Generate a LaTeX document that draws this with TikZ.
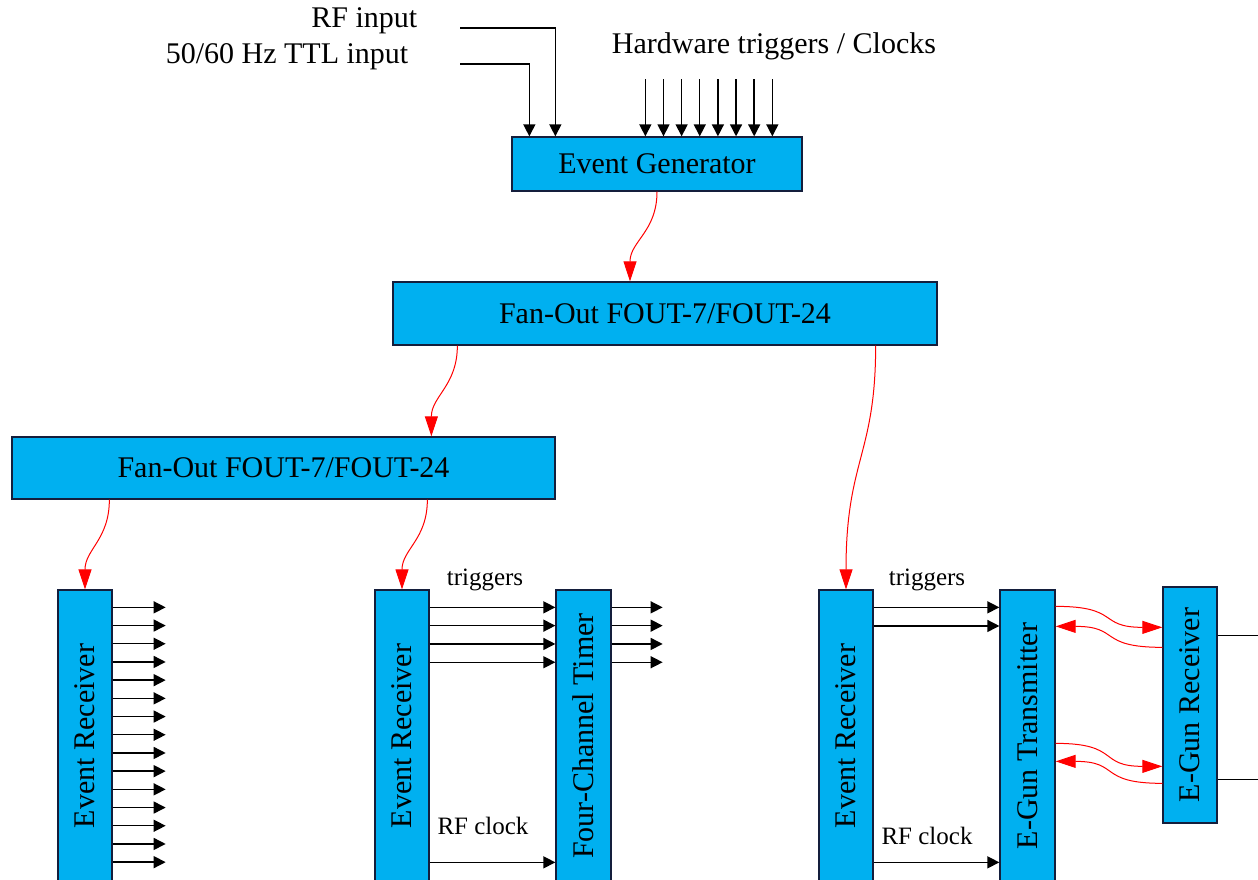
\documentclass[tikz,border=0pt]{standalone}
\usepackage{fontspec}
\setmainfont{Liberation Serif}
\usetikzlibrary{arrows.meta, calc, positioning}
\definecolor{boxblue}{RGB}{0,176,240}
\definecolor{boxline}{RGB}{20,30,60}

\begin{document}
\begin{tikzpicture}[x=1pt, y=-1pt, line width=1.4pt,
    blk/.style={draw=boxline, fill=boxblue, line width=1.3pt, inner sep=0pt, font=\fontsize{30}{34}\selectfont},
    sig/.style={-{Triangle[length=12pt, width=12pt]}, line width=1.4pt},
    fib/.style={-{Triangle[length=20pt, width=13pt]}, red, line width=1pt},
    lbl/.style={font=\fontsize{30}{34}\selectfont, inner sep=0pt},
    small/.style={font=\fontsize{25}{30}\selectfont, inner sep=0pt}]
        \useasboundingbox (0,0) rectangle (1258,880);
        \clip (0,0) rectangle (1258,880);

        % Event generator and its inputs
        \node[blk, minimum width=290pt, minimum height=54pt] (eg) at (657,164) {Event Generator};
        \node[lbl, anchor=base east] (rfin) at (418,28) {RF input};
        \node[lbl, anchor=base east] (ttlin) at (409,64) {50/60 Hz TTL input};
        \coordinate (rfstart) at (460,28);
        \coordinate (ttlstart) at (460,64);
        \draw[sig] (rfstart) -| ($(eg.north west)+(44,0)$);
        \draw[sig] (ttlstart) -| ($(eg.north west)+(18,0)$);
        \node[lbl] (hw) at (774,46) {Hardware triggers / Clocks};
        \foreach \i in {0,...,7}
            \draw[sig] ($(eg.north west)+(134+18.14*\i,-57)$) -- +(0,57);

        % Fan-outs
        \node[blk, minimum width=544pt, minimum height=63pt] (fo1) at (665,313.5) {Fan-Out FOUT-7/FOUT-24};
        \node[blk, minimum width=543pt, minimum height=62pt] (fo2) at (283.5,468) {Fan-Out FOUT-7/FOUT-24};

        % Receivers and timers
        \node[blk, minimum width=54pt, minimum height=292pt] (er1) at (85,736) {\rotatebox{90}{Event Receiver}};
        \node[blk, minimum width=54pt, minimum height=292pt] (er2) at (402,736) {\rotatebox{90}{Event Receiver}};
        \node[blk, minimum width=55pt, minimum height=292pt] (fct) at (583.5,736) {\rotatebox{90}{Four-Channel Timer}};
        \node[blk, minimum width=54pt, minimum height=292pt] (er3) at (846,736) {\rotatebox{90}{Event Receiver}};
        \node[blk, minimum width=55pt, minimum height=292pt] (egt) at (1027.5,736) {\rotatebox{90}{E-Gun Transmitter}};
        \node[blk, minimum width=54pt, minimum height=236pt] (egr) at (1190,705) {\rotatebox{90}{E-Gun Receiver}};

        % Fibre links
        \draw[fib] (eg.south) .. controls +(0,40) and +(0,-40) .. ($(fo1.north)+(-35,0)$);
        \draw[fib] ($(fo1.south west)+(65,0)$) .. controls +(0,40) and +(0,-40) .. ($(fo2.north west)+(420,0)$);
        \draw[fib] ($(fo1.south east)+(-62,0)$) .. controls +(0,110) and +(0,-130) .. (er3.north);
        \draw[fib] ($(fo2.south west)+(98,0)$) .. controls +(0,40) and +(0,-40) .. (er1.north);
        \draw[fib] ($(fo2.south west)+(416,0)$) .. controls +(0,40) and +(0,-40) .. (er2.north);

        % Outputs of first receiver
        \foreach \i in {0,...,14}
            \draw[sig] ($(er1.north east)+(0,18+18.2*\i)$) -- +(53,0);

        % Receiver to timer
        \node[small] (trig2) at (485,580) {triggers};
        \node[small] (rfclk2) at (483,826) {RF clock};
        \foreach \i in {0,...,3} {
            \draw[sig] ($(er2.north east)+(0,18+18.3*\i)$) -- ($(fct.north west)+(0,18+18.3*\i)$);
            \draw[sig] ($(fct.north east)+(0,18+18.3*\i)$) -- +(51,0);
        }
        \draw[sig] ($(er2.north east)+(0,273)$) -- ($(fct.north west)+(0,273)$);

        % Receiver to e-gun
        \node[small] (trig3) at (927,580) {triggers};
        \node[small] (rfclk3) at (927,836) {RF clock};
        \foreach \i in {0,1}
            \draw[sig] ($(er3.north east)+(0,18+18.6*\i)$) -- ($(egt.north west)+(0,18+18.6*\i)$);
        \draw[sig] ($(er3.north east)+(0,273)$) -- ($(egt.north west)+(0,273)$);

        % E-gun fibre pairs
        \draw[fib] ($(egt.north east)+(0,17)$) .. controls +(65,0) and +(-65,0) .. ($(egr.north west)+(0,41)$);
        \draw[fib] ($(egr.north west)+(0,61)$) .. controls +(-65,0) and +(65,0) .. ($(egt.north east)+(0,37)$);
        \draw[fib] ($(egt.north east)+(0,154)$) .. controls +(65,0) and +(-65,0) .. ($(egr.north west)+(0,180)$);
        \draw[fib] ($(egr.north west)+(0,197)$) .. controls +(-65,0) and +(65,0) .. ($(egt.north east)+(0,172)$);
        \draw ($(egr.north east)+(0,49)$) -- +(60,0);
        \draw ($(egr.north east)+(0,193)$) -- +(60,0);
\end{tikzpicture}
\end{document}
